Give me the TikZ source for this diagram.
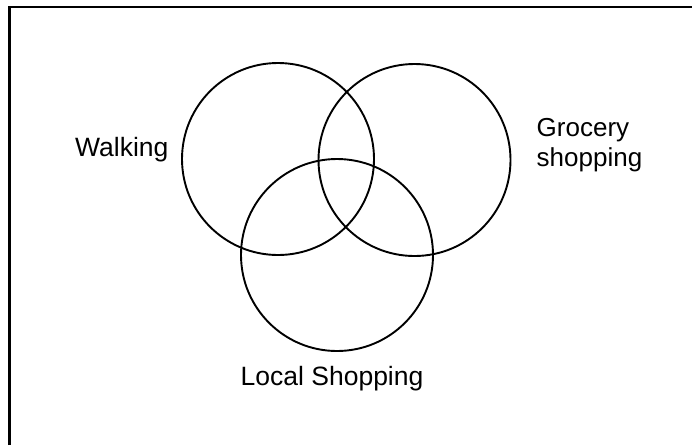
\documentclass[tikz,border=0pt]{standalone}
\usepackage{fontspec}
\setmainfont{Liberation Sans}
\usepackage{tikz}

\begin{document}
\begin{tikzpicture}[x=1pt, y=-1pt]
    \useasboundingbox (0,0) rectangle (692,445);

    % frame (only top and left edges visible)
    \coordinate (fbl) at (9.5,445);
    \coordinate (ftl) at (9.5,7);
    \coordinate (ftr) at (692,7);
    \draw[line width=2.6pt] (fbl) -- (ftl) -- (ftr);

    % the three sets
    \node[circle, draw, line width=1.9pt, minimum size=192pt, inner sep=0pt] (walk)  at (278,159) {};
    \node[circle, draw, line width=1.9pt, minimum size=192pt, inner sep=0pt] (groc)  at (414.5,160) {};
    \node[circle, draw, line width=1.9pt, minimum size=192pt, inner sep=0pt] (local) at (337,255) {};

    % labels
    \node[anchor=base west, inner sep=0pt, font=\fontsize{26.5}{30}\selectfont] (walklbl) at (75,156.5) {Walking};
    \node[anchor=north west, inner sep=0pt, align=left, font=\fontsize{26}{30}\selectfont] (groclbl) at (536.5,118.5) {Grocery\\shopping};
    \node[anchor=base west, inner sep=0pt, font=\fontsize{26.5}{30}\selectfont] (locallbl) at (240.5,385) {Local Shopping};
\end{tikzpicture}
\end{document}
